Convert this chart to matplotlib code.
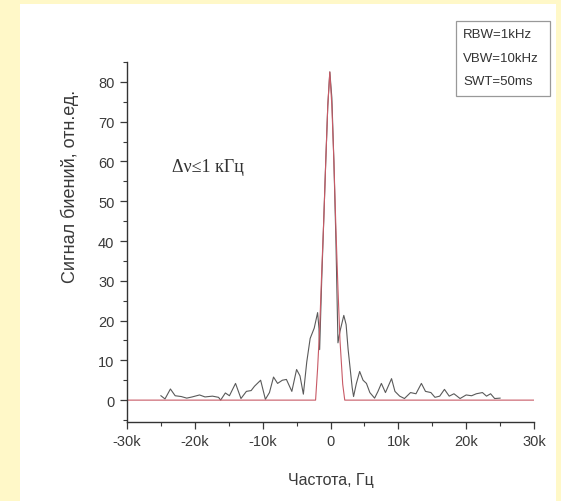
import numpy as np
import matplotlib
matplotlib.use("Agg")
import matplotlib.pyplot as plt
from matplotlib.patches import Rectangle
from matplotlib.ticker import MultipleLocator

# beat signal spectrum, frequency in kHz
beat_freq = [-25.0, -24.4, -23.6, -22.9, -22.0, -21.2, -20.4, -19.3, -18.5, -17.4,
             -16.5, -16.2, -15.5, -14.9, -14.0, -13.2, -12.4, -11.7, -11.2, -10.3,
             -9.6, -9.0, -8.4, -7.8, -7.1, -6.5, -5.7, -5.0, -4.5, -4.0,
             -3.5, -3.0, -2.4, -1.9, -1.7, -1.6, -1.3, -1.0, -0.7, -0.4,
             -0.1, 0.2, 0.5, 0.8, 1.1, 1.4, 1.96, 2.3, 2.6, 3.2,
             3.4, 3.8, 4.3, 4.8, 5.3, 5.8, 6.5, 7.0, 7.5, 8.1,
             9.0, 9.5, 10.2, 10.9, 11.8, 12.6, 13.4, 14.0, 14.8, 15.4,
             16.1, 16.8, 17.5, 18.2, 19.1, 20.0, 20.8, 21.5, 22.4, 23.0,
             23.6, 24.2, 25.0]
beat_sig = [1.1, 0.3, 2.8, 1.1, 0.9, 0.5, 0.8, 1.3, 0.8, 1.0,
            0.7, 0.0, 1.8, 1.1, 4.2, 0.4, 2.2, 2.4, 3.5, 5.0,
            0.2, 1.9, 5.8, 4.2, 5.0, 5.2, 2.2, 7.7, 6.1, 1.5,
            9.6, 15.5, 18.1, 22.0, 18.0, 12.7, 30.0, 45.0, 60.0, 74.0,
            82.5, 76.0, 60.0, 40.0, 14.4, 17.3, 21.3, 19.0, 12.7, 3.1,
            0.9, 4.1, 7.2, 5.0, 4.2, 1.9, 0.5, 2.2, 4.2, 1.9,
            5.4, 2.2, 1.0, 0.4, 1.9, 1.6, 4.2, 2.2, 1.9, 0.7,
            1.0, 2.7, 1.0, 1.6, 0.4, 1.3, 1.1, 1.6, 1.9, 1.0,
            1.6, 0.4, 0.5]

# fitted line shape
fit_freq = [-30.0, -2.2, -1.9, -1.6, -1.3, -1.0, -0.7, -0.4, -0.1,
            0.2, 0.5, 0.8, 1.1, 1.4, 1.8, 2.1, 30.0]
fit_sig = [0.0, 0.0, 8.0, 18.0, 32.0, 45.0, 60.0, 74.0, 82.5,
           74.0, 60.0, 43.0, 28.0, 15.0, 4.0, 0.0, 0.0]

xticks = [-30, -20, -10, 0, 10, 20, 30]
xticklabels = ["-30k", "-20k", "-10k", "0", "10k", "20k", "30k"]
yticks = [0, 10, 20, 30, 40, 50, 60, 70, 80]
settings = ["RBW=1kHz", "VBW=10kHz", "SWT=50ms"]

plt.rcParams['font.family'] = ['Liberation Sans', 'DejaVu Sans']
W, H = 561, 502

fig = plt.figure(figsize=(5.61, 5.02), dpi=100)
fig.patch.set_facecolor('#fff8c8')
fig.patches.append(Rectangle((20 / W, 0), 536 / W, 497 / H,
                             transform=fig.transFigure, facecolor='white',
                             edgecolor='none', zorder=-10))

ax = fig.add_axes([127 / W, 1 - 423 / H, 407 / W, 360 / H])
ax.set_facecolor('none')

ax.plot(beat_freq, beat_sig, color='#5a5a5a', lw=0.8)
ax.plot(fit_freq, fit_sig, color='#c85a66', lw=0.8)

ax.set_xlim(-30, 30)
ax.set_ylim(-5.5, 85)
ax.set_xticks(xticks)
ax.set_xticklabels(xticklabels)
ax.set_yticks(yticks)
ax.xaxis.set_minor_locator(MultipleLocator(5))
ax.yaxis.set_minor_locator(MultipleLocator(5))
ax.tick_params(which='major', direction='out', length=5, width=0.9,
               labelsize=10.5, colors='#3a3a3a', pad=4)
ax.tick_params(which='minor', direction='out', length=3, width=0.8,
               colors='#3a3a3a')
for s in ['top', 'right']:
    ax.spines[s].set_visible(False)
for s in ['left', 'bottom']:
    ax.spines[s].set_color('#333333')
    ax.spines[s].set_linewidth(1.0)

ax.set_xlabel('Частота, Гц', fontsize=11.5, color='#3a3a3a', labelpad=17)
ax.set_ylabel('Сигнал биений, отн.ед.', fontsize=13, color='#3a3a3a')
ax.yaxis.set_label_coords(-0.118, 0.658)

ax.text(-23.3, 58.7, 'Δν≤1 кГц', family=['Liberation Serif', 'DejaVu Serif'],
        fontsize=13, color='#333333', va='center', ha='left')

fig.patches.append(Rectangle((456 / W, 1 - 97 / H), 94 / W, 75 / H,
                             transform=fig.transFigure, facecolor='white',
                             edgecolor='#999999', lw=0.9))
for i, s in enumerate(settings):
    fig.text(463 / W, 1 - (35 + 23.5 * i) / H, s, fontsize=9.5,
             color='#333333', va='center', ha='left')

fig.savefig('out.png', dpi=100)
